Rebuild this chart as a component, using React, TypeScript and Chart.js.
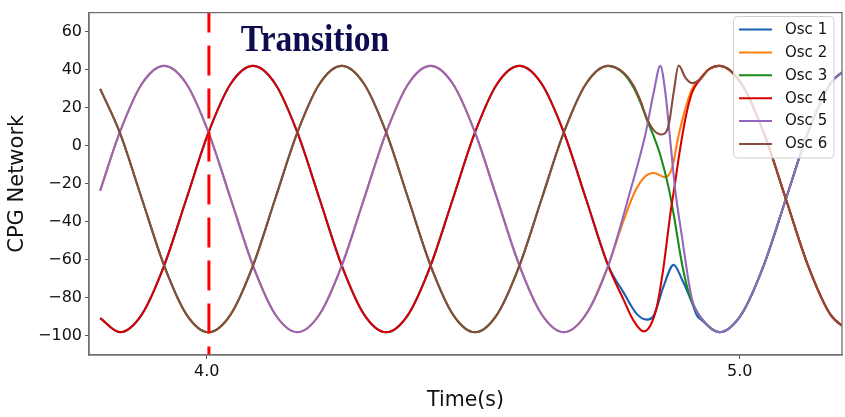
import { useEffect, useRef } from 'react';
import { Chart, registerables } from 'chart.js';

Chart.register(...registerables);

// ---- data ----
const seriesLabels = ['Osc 1', 'Osc 2', 'Osc 3', 'Osc 4', 'Osc 5', 'Osc 6'];
const seriesColors = ['#1662ae', '#ff7f0e', '#188c18', '#d80000', '#9467bd', '#8a4a3d'];

// regular (pre-transition) sampling times, seconds
const preTimes = [3.8, 3.8367, 3.8783, 3.92, 3.9617, 4.0033, 4.045, 4.0867, 4.1283, 4.17, 4.2117, 4.2533,
  4.295, 4.3367, 4.3783, 4.42, 4.4617, 4.5033, 4.545, 4.5867, 4.6283, 4.67, 4.7117, 4.7533];
// group A: Osc 1 & Osc 4, group B: Osc 2 & Osc 5, group C: Osc 3 & Osc 6
const preA = [-90.6, -98, -88.6, -63, -28, 7, 32.6, 42, 32.6, 7, -28, -63, -88.6, -98, -88.6, -63, -28, 7, 32.6, 42, 32.6, 7, -28, -63];
const preB = [-23.6, 7, 32.6, 42, 32.6, 7, -28, -63, -88.6, -98, -88.6, -63, -28, 7, 32.6, 42, 32.6, 7, -28, -63, -88.6, -98, -88.6, -63];
const preC = [29.9, 7, -28, -63, -88.6, -98, -88.6, -63, -28, 7, 32.6, 42, 32.6, 7, -28, -63, -88.6, -98, -88.6, -63, -28, 7, 32.6, 42];

// post-transition sampling times
const postTimes = [4.9617, 5.0033, 5.045, 5.0867, 5.1283, 5.17, 5.2117];
const postOdd = [-98, -88.6, -63, -28, 7, 32.6, 42]; // Osc 1, 3, 5
const postEven = [42, 32.6, 7, -28, -63, -88.6, -98]; // Osc 2, 4, 6

// transition segments [time, value]
const osc1Transition: [number, number][] = [[4.7822, -77.2], [4.8073, -88.5], [4.8261, -91.4], [4.8386, -89.3], [4.8573, -73.8],
  [4.8761, -62.6], [4.8918, -70.3], [4.9105, -82.4], [4.92, -89.3], [4.9293, -91.8]];
const osc2Transition: [number, number][] = [[4.7822, -39.3], [4.8042, -23.7], [4.823, -16], [4.8386, -14.3], [4.8605, -16.5],
  [4.8731, -11.7], [4.8855, 5.6], [4.8981, 19.4], [4.9106, 29.8], [4.9262, 35.5], [4.9418, 40.1]];
const osc3Transition: [number, number][] = [[4.7822, 38], [4.801, 30.5], [4.8136, 23], [4.8261, 13.5], [4.8386, 5],
  [4.8511, -5], [4.8667, -22], [4.8761, -36], [4.8917, -62], [4.9042, -77.2], [4.9105, -82], [4.9293, -91.2]];
const osc4Transition: [number, number][] = [[4.7822, -81], [4.801, -92], [4.8198, -97.6], [4.8324, -94.5], [4.8449, -84.2],
  [4.8573, -63.4], [4.8699, -35.8], [4.8793, -18.6], [4.8855, -6.5], [4.8981, 14.2], [4.9106, 28], [4.9262, 35], [4.9418, 40.1]];
const osc5Transition: [number, number][] = [[4.7948, -23.7], [4.823, 5.9], [4.8386, 28], [4.8511, 42], [4.8605, 28],
  [4.8686, 5.9], [4.8793, -23.7], [4.8917, -47.9], [4.9105, -80.7], [4.9293, -91]];
const osc6Transition: [number, number][] = [[4.7822, 38.4], [4.801, 31.5], [4.8136, 23.8], [4.8261, 14.2], [4.8386, 8.2],
  [4.8531, 5.9], [4.8667, 10.8], [4.8761, 28], [4.8855, 42.2], [4.8981, 35.8], [4.9106, 32.9], [4.9262, 35], [4.9418, 40.1]];

const transitionTime = 4.004;
const transitionLabel = 'Transition';
const xTickValues = [4.0, 5.0];
const yTickValues = [-100, -80, -60, -40, -20, 0, 20, 40, 60];
const xRange = [3.779, 5.192];
const yRange = [-110, 70];
const xTitle = 'Time(s)';
const yTitle = 'CPG Network';

function buildSeries(pre: number[], trans: [number, number][], post: number[]) {
  return [
    ...preTimes.map((t, i) => ({ x: t, y: pre[i] })),
    ...trans.map(([x, y]) => ({ x, y })),
    ...postTimes.map((t, i) => ({ x: t, y: post[i] })),
  ];
}

const seriesData = [
  buildSeries(preA, osc1Transition, postOdd),
  buildSeries(preB, osc2Transition, postEven),
  buildSeries(preC, osc3Transition, postOdd),
  buildSeries(preA, osc4Transition, postEven),
  buildSeries(preB, osc5Transition, postOdd),
  buildSeries(preC, osc6Transition, postEven),
];

const fmtY = (v: number) => (v < 0 ? '\u2212' + Math.abs(v) : String(v));

const decorPlugin = {
  id: 'decor',
  afterDatasetsDraw(chart: any) {
    const { ctx, chartArea } = chart;
    const xs = chart.scales.x;
    const px = xs.getPixelForValue(transitionTime);
    ctx.save();
    ctx.beginPath();
    ctx.rect(chartArea.left, chartArea.top, chartArea.right - chartArea.left, chartArea.bottom - chartArea.top);
    ctx.clip();
    ctx.strokeStyle = '#ff0000';
    ctx.lineWidth = 3;
    ctx.setLineDash([30, 13]);
    ctx.lineDashOffset = 10;
    ctx.beginPath();
    ctx.moveTo(px, chartArea.top);
    ctx.lineTo(px, chartArea.bottom);
    ctx.stroke();
    ctx.restore();

    // title text inside the plot
    ctx.save();
    ctx.translate(315, 51);
    ctx.scale(1, 1.12);
    ctx.font = 'bold 33.5px "Liberation Serif", "Times New Roman", serif';
    ctx.fillStyle = '#0c0c4e';
    ctx.textAlign = 'center';
    ctx.textBaseline = 'alphabetic';
    ctx.fillText(transitionLabel, 0, 0);
    ctx.restore();
  },
  afterDraw(chart: any) {
    const { ctx, chartArea } = chart;
    // frame
    ctx.save();
    ctx.strokeStyle = '#707070';
    ctx.lineWidth = 1.3;
    ctx.strokeRect(chartArea.left, chartArea.top, chartArea.right - chartArea.left, chartArea.bottom - chartArea.top);
    ctx.restore();

    // legend
    const bx = 733.5, by = 16.5, bw = 100.5, bh = 141.5, r = 4;
    ctx.save();
    ctx.beginPath();
    ctx.moveTo(bx + r, by);
    ctx.lineTo(bx + bw - r, by);
    ctx.arcTo(bx + bw, by, bx + bw, by + r, r);
    ctx.lineTo(bx + bw, by + bh - r);
    ctx.arcTo(bx + bw, by + bh, bx + bw - r, by + bh, r);
    ctx.lineTo(bx + r, by + bh);
    ctx.arcTo(bx, by + bh, bx, by + bh - r, r);
    ctx.lineTo(bx, by + r);
    ctx.arcTo(bx, by, bx + r, by, r);
    ctx.closePath();
    ctx.fillStyle = 'rgba(255,255,255,0.8)';
    ctx.fill();
    ctx.strokeStyle = '#cfcfcf';
    ctx.lineWidth = 1;
    ctx.stroke();
    ctx.font = '15px "DejaVu Sans", sans-serif';
    ctx.textBaseline = 'middle';
    ctx.textAlign = 'left';
    chart.data.datasets.forEach((ds: any, i: number) => {
      const y = 29.5 + i * 22.9;
      ctx.strokeStyle = ds.borderColor;
      ctx.lineWidth = 2;
      ctx.beginPath();
      ctx.moveTo(739, y);
      ctx.lineTo(772, y);
      ctx.stroke();
      ctx.fillStyle = '#111';
      ctx.fillText(ds.label, 785, y + 0.5);
    });
    ctx.restore();
  },
};

export default function App() {
  const ref = useRef<HTMLCanvasElement>(null);
  useEffect(() => {
    const chart = new Chart(ref.current as HTMLCanvasElement, {
      type: 'line',
      data: {
        datasets: seriesLabels.map((label, i) => ({
          label,
          data: seriesData[i],
          borderColor: seriesColors[i],
          backgroundColor: seriesColors[i],
          borderWidth: 2.1,
          pointRadius: 0,
          fill: false,
          cubicInterpolationMode: 'monotone' as const,
          order: 5 - i,
        })),
      },
      options: {
        animation: false,
        responsive: false,
        devicePixelRatio: 1,
        layout: { padding: { left: 0, right: 3, top: 9, bottom: 0 } },
        plugins: { legend: { display: false }, tooltip: { enabled: false } },
        scales: {
          x: {
            type: 'linear',
            min: xRange[0],
            max: xRange[1],
            afterBuildTicks: (axis: any) => {
              axis.ticks = xTickValues.map((value) => ({ value }));
            },
            afterFit: (axis: any) => {
              axis.height = 62;
            },
            ticks: {
              callback: (v: any) => Number(v).toFixed(1),
              font: { family: '"DejaVu Sans", sans-serif', size: 16 },
              color: '#111',
              padding: 3,
              maxRotation: 0,
              autoSkip: false,
            },
            grid: { drawOnChartArea: false, drawTicks: true, tickLength: 4, color: '#555', lineWidth: 1 },
            border: { display: true, color: '#707070', width: 1.3 },
            title: {
              display: true,
              text: xTitle,
              font: { family: '"DejaVu Sans", sans-serif', size: 20.5 },
              color: '#111',
              padding: { top: 0, bottom: 4 },
            },
          },
          y: {
            type: 'linear',
            min: yRange[0],
            max: yRange[1],
            afterBuildTicks: (axis: any) => {
              axis.ticks = yTickValues.map((value) => ({ value }));
            },
            afterFit: (axis: any) => {
              axis.width = 89;
            },
            ticks: {
              callback: (v: any) => fmtY(Number(v)),
              font: { family: '"DejaVu Sans", sans-serif', size: 16 },
              color: '#111',
              padding: 3,
              autoSkip: false,
            },
            grid: { drawOnChartArea: false, drawTicks: true, tickLength: 4, color: '#555', lineWidth: 1 },
            border: { display: true, color: '#707070', width: 1.3 },
            title: {
              display: true,
              text: yTitle,
              font: { family: '"DejaVu Sans", sans-serif', size: 21 },
              color: '#111',
              padding: { top: 5, bottom: 0 },
            },
          },
        },
      },
      plugins: [decorPlugin],
    } as any);
    return () => chart.destroy();
  }, []);
  return (
    <div style={{ position: 'fixed', left: 0, top: 0, width: 845, height: 417, background: '#fff' }}>
      <canvas ref={ref} width={845} height={417} style={{ display: 'block', width: 845, height: 417 }} />
    </div>
  );
}
